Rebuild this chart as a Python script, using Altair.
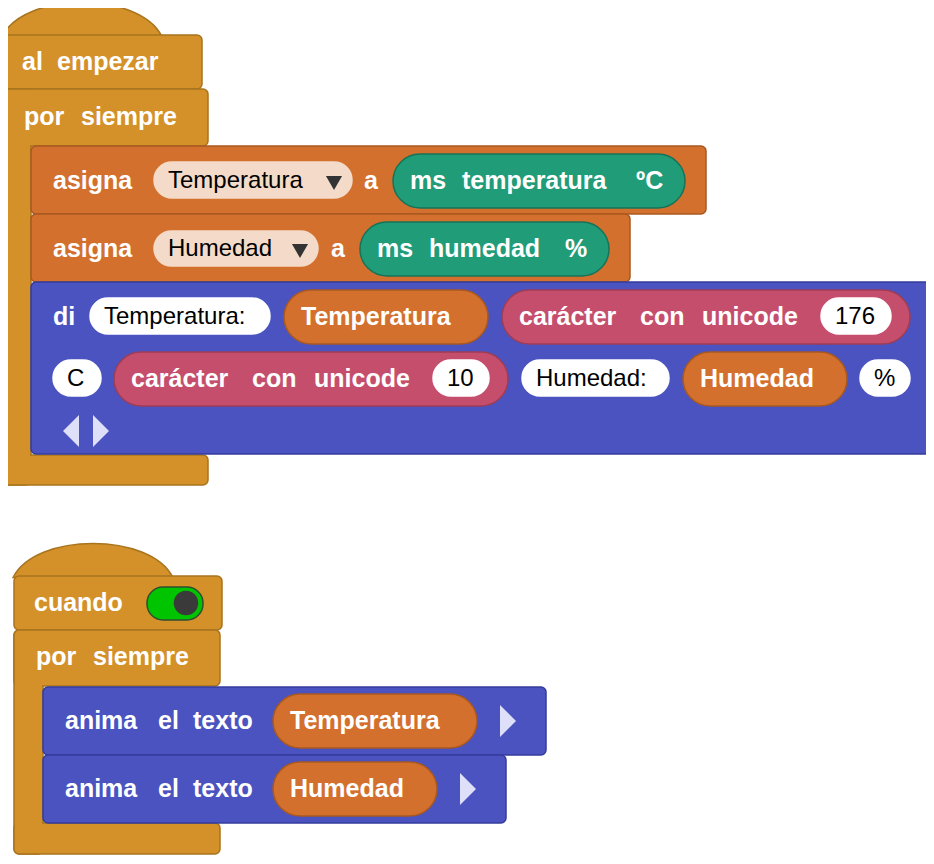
import pandas as pd
import altair as alt

# block rectangles (pixel coords of the picture)
blk_x = [2, 2, 2, 2, 31, 31, 31, 14, 14, 14, 14, 43, 43]
blk_x2 = [202, 31, 208, 208, 706, 630, 932, 222, 43, 220, 220, 546, 506]
blk_y = [35, 89, 89, 455, 146, 214, 282, 576, 630, 630, 823, 687, 755]
blk_y2 = [89, 485, 146, 485, 214, 282, 454, 630, 854, 686, 854, 755, 823]
blk_kind = ["event", "event", "event", "event", "var", "var", "say", "event", "event", "event", "event", "say", "say"]

# patches hiding the seams of the C-shaped "por siempre" blocks
patch_x = [3, 3, 15, 15]
patch_x2 = [30, 30, 42, 42]
patch_y = [138, 448, 676, 815]
patch_y2 = [152, 462, 692, 830]

# pills (rounded value slots)
pill_x = [154, 393, 154, 360, 90, 284, 502, 821, 53, 114, 433, 522, 683, 860, 273, 273]
pill_x2 = [352, 685, 318, 609, 270, 488, 910, 891, 101, 508, 489, 669, 847, 910, 477, 437]
pill_y = [162, 154, 231, 222, 298, 290, 290, 298, 360, 352, 360, 360, 352, 360, 694, 762]
pill_y2 = [198, 208, 266, 276, 334, 344, 344, 334, 396, 406, 396, 396, 406, 396, 748, 816]
pill_kind = ["drop", "ms", "drop", "ms", "white", "var", "text", "white", "white", "text",
             "white", "white", "var", "white", "var", "var"]

# words
bold_words = ["al", "empezar", "por", "siempre", "asigna", "a", "ms", "temperatura", "ºC",
              "asigna", "a", "ms", "humedad", "%", "di", "Temperatura", "carácter", "con",
              "unicode", "carácter", "con", "unicode", "Humedad", "cuando", "por", "siempre",
              "anima", "el", "texto", "Temperatura", "anima", "el", "texto", "Humedad"]
bold_x = [22, 57, 24, 81, 53, 364, 410, 462, 636, 53, 331, 377, 429, 565, 53, 301, 519, 640,
          702, 131, 252, 314, 700, 34, 36, 93, 65, 158, 193, 290, 65, 158, 193, 290]
bold_y = [62, 62, 117, 117, 181, 181, 181, 181, 181, 249, 249, 249, 249, 249, 317, 317, 317, 317,
          317, 379, 379, 379, 379, 603, 657, 657, 721, 721, 721, 721, 789, 789, 789, 789]

plain_words = ["Temperatura", "Humedad", "Temperatura:", "176", "C", "10", "Humedad:", "%"]
plain_x = [168, 168, 104, 835, 67, 447, 536, 874]
plain_y = [181, 249, 317, 317, 379, 379, 379, 379]

hat_x = [82, 93]
hat_y = [35, 576]
drop_x = [334, 300]
drop_y = [183, 251]
arrow_x = [71, 101, 508, 468]
arrow_y = [431, 431, 721, 789]
arrow_dir = ["left", "right", "right", "right"]

fills = {"event": "#D4912A", "var": "#D3702E", "say": "#4A53BF", "ms": "#219C79",
         "text": "#C64E6D", "drop": "#F4DBC9", "white": "#FFFFFF"}
strokes = {"event": "#A8741E", "var": "#A9581F", "say": "#363C9C", "ms": "#167358",
           "text": "#9E3D57", "drop": "#F4DBC9", "white": "#FFFFFF"}

X = alt.Scale(domain=[8, 926], nice=False, zero=False)
Y = alt.Scale(domain=[8, 856], nice=False, zero=False, reverse=True)
noax = None


def pos(df, cx="x", cy="y"):
    return dict(x=alt.X(cx, scale=X, axis=noax), y=alt.Y(cy, scale=Y, axis=noax))


blocks = pd.DataFrame({"x": blk_x, "x2": blk_x2, "y": blk_y, "y2": blk_y2, "k": blk_kind})
blocks["f"] = blocks.k.map(fills)
blocks["s"] = blocks.k.map(strokes)
patches = pd.DataFrame({"x": patch_x, "x2": patch_x2, "y": patch_y, "y2": patch_y2,
                        "f": [fills["event"]] * 4})
pills = pd.DataFrame({"x": pill_x, "x2": pill_x2, "y": pill_y, "y2": pill_y2, "k": pill_kind})
pills["f"] = pills.k.map(fills)
pills["s"] = pills.k.map(strokes)
pills["h"] = pills.y2 - pills.y
big = pills[pills.h > 45]
small = pills[pills.h <= 45]

hats = pd.DataFrame({"x": hat_x, "y": hat_y})
hat = alt.Chart(hats).mark_point(
    shape="M-1,0.02 C-0.72,-0.55 0.72,-0.55 1,0.02 Z", size=25600, filled=True,
    fill=fills["event"], stroke=strokes["event"], strokeWidth=1.5, opacity=1
).encode(**pos(hats))


def rects(df, r, stroke=True):
    m = alt.Chart(df).mark_rect(cornerRadius=r, strokeWidth=1.5 if stroke else 0)
    enc = dict(x=alt.X("x", scale=X, axis=noax), x2="x2",
               y=alt.Y("y", scale=Y, axis=noax), y2="y2",
               fill=alt.Fill("f", scale=None))
    if stroke:
        enc["stroke"] = alt.Stroke("s", scale=None)
    return m.encode(**enc)


toggle_df = pd.DataFrame({"x": [147], "x2": [203], "y": [587], "y2": [620],
                          "f": ["#00C400"], "s": ["#2F4F2F"]})
knob = pd.DataFrame({"x": [186], "y": [603]})

drops = pd.DataFrame({"x": drop_x, "y": drop_y})
arrows = pd.DataFrame({"x": arrow_x, "y": arrow_y, "d": arrow_dir})

bold = pd.DataFrame({"t": bold_words, "x": bold_x, "y": bold_y})
plain = pd.DataFrame({"t": plain_words, "x": plain_x, "y": plain_y})

layers = [
    hat,
    rects(blocks, 5),
    rects(patches, 0, stroke=False),
    rects(big, 27),
    rects(small, 18),
    rects(toggle_df, 16),
    alt.Chart(knob).mark_circle(size=600, color="#3A3A3A", opacity=1).encode(**pos(knob)),
    alt.Chart(drops).mark_point(shape="triangle-down", size=260, filled=True,
                                color="#333333", opacity=1).encode(**pos(drops)),
    alt.Chart(arrows[arrows.d == "left"]).mark_point(
        shape="M0.5,-1 L-0.5,0 L0.5,1 Z", size=1024, filled=True, color="#DDE0F8",
        opacity=1).encode(**pos(arrows)),
    alt.Chart(arrows[arrows.d == "right"]).mark_point(
        shape="M-0.5,-1 L0.5,0 L-0.5,1 Z", size=1024, filled=True, color="#DDE0F8",
        opacity=1).encode(**pos(arrows)),
    alt.Chart(bold).mark_text(align="left", baseline="middle", font="Liberation Sans",
                              fontSize=25, fontWeight="bold", color="white").encode(
        text="t", **pos(bold)),
    alt.Chart(plain).mark_text(align="left", baseline="middle", font="Liberation Sans",
                               fontSize=24, color="black").encode(text="t", **pos(plain)),
]

chart = alt.layer(*layers).properties(
    width=918, height=848, padding=0, autosize=alt.AutoSizeParams(type="none"),
    background="white"
).configure_view(stroke=None)

chart.save("out.html", embed_options={"renderer": "svg", "actions": False})
